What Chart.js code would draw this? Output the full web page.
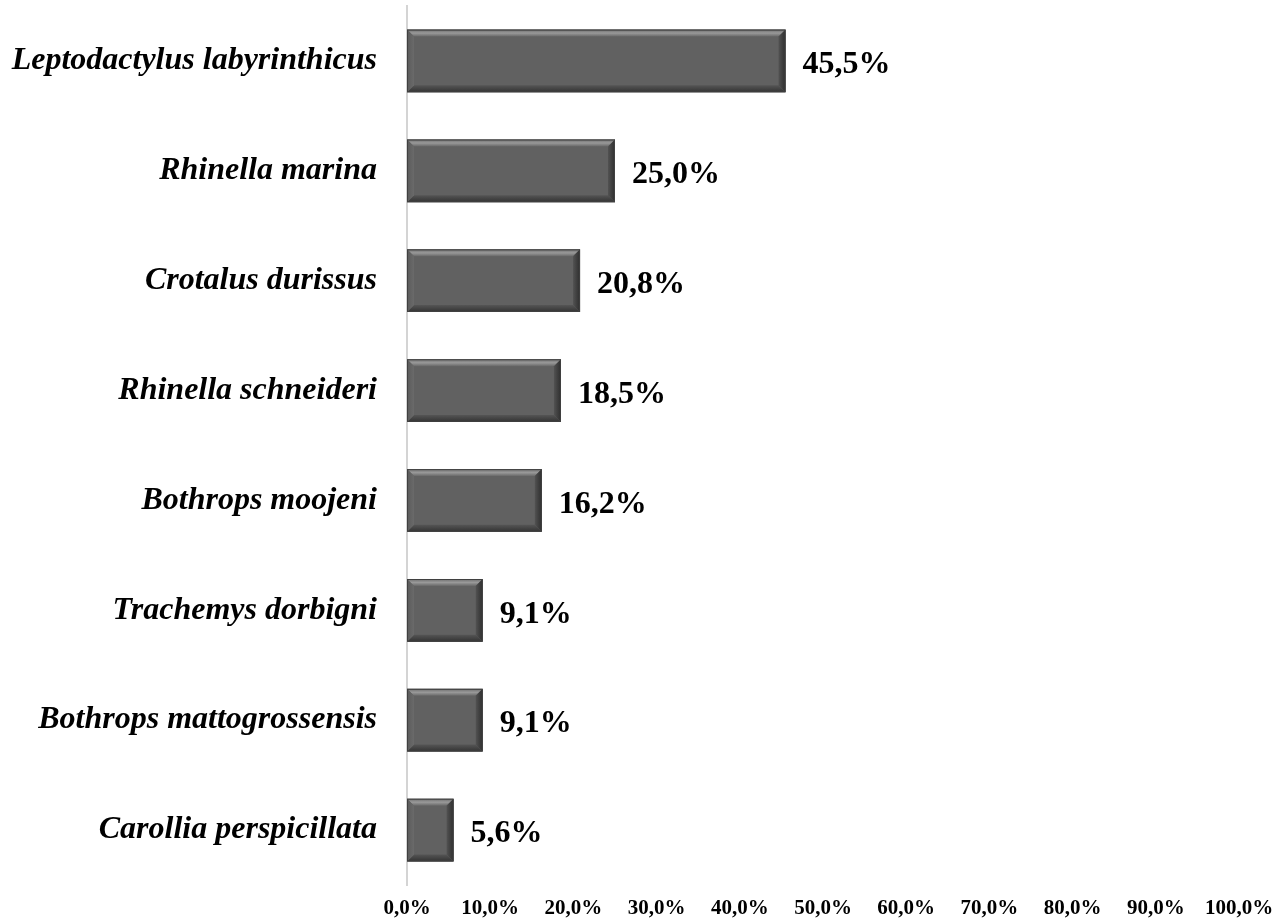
<!DOCTYPE html>
<html><head><meta charset="utf-8">
<script src="https://cdn.jsdelivr.net/npm/chart.js@4/dist/chart.umd.min.js"></script>
<style>html,body{margin:0;padding:0;background:#fff}#wrap{width:1286px;height:921px}</style>
</head><body><div id="wrap"><canvas id="c" width="1286" height="921"></canvas></div>
<script>
const categories = ["Leptodactylus labyrinthicus","Rhinella marina","Crotalus durissus","Rhinella schneideri","Bothrops moojeni","Trachemys dorbigni","Bothrops mattogrossensis","Carollia perspicillata"];
const values = [45.5, 25.0, 20.8, 18.5, 16.2, 9.1, 9.1, 5.6];
const xTickMin = 0, xTickMax = 100, xTickStep = 10;

const fmt = v => v.toFixed(1).replace('.', ',') + '%';

const bevel = {
  id: 'bevel',
  afterDatasetsDraw(chart) {
    const ctx = chart.ctx;
    chart.getDatasetMeta(0).data.forEach(bar => {
      const x0 = Math.min(bar.base, bar.x), x1 = Math.max(bar.base, bar.x);
      const y0 = bar.y - bar.height / 2, y1 = bar.y + bar.height / 2;
      const b = 7;
      ctx.save();
      let g = ctx.createLinearGradient(0, y0, 0, y0 + b);
      g.addColorStop(0, '#6e6e6e'); g.addColorStop(0.5, '#999999'); g.addColorStop(1, '#686868');
      ctx.fillStyle = g;
      ctx.beginPath(); ctx.moveTo(x0, y0); ctx.lineTo(x1, y0); ctx.lineTo(x1 - b, y0 + b); ctx.lineTo(x0 + b, y0 + b); ctx.closePath(); ctx.fill();
      g = ctx.createLinearGradient(0, y1 - b, 0, y1);
      g.addColorStop(0, '#555555'); g.addColorStop(1, '#333333');
      ctx.fillStyle = g;
      ctx.beginPath(); ctx.moveTo(x0, y1); ctx.lineTo(x1, y1); ctx.lineTo(x1 - b, y1 - b); ctx.lineTo(x0 + b, y1 - b); ctx.closePath(); ctx.fill();
      g = ctx.createLinearGradient(x0, 0, x0 + b, 0);
      g.addColorStop(0, '#5a5a5a'); g.addColorStop(1, '#6a6a6a');
      ctx.fillStyle = g;
      ctx.beginPath(); ctx.moveTo(x0, y0); ctx.lineTo(x0 + b, y0 + b); ctx.lineTo(x0 + b, y1 - b); ctx.lineTo(x0, y1); ctx.closePath(); ctx.fill();
      g = ctx.createLinearGradient(x1 - b, 0, x1, 0);
      g.addColorStop(0, '#525252'); g.addColorStop(1, '#2e2e2e');
      ctx.fillStyle = g;
      ctx.beginPath(); ctx.moveTo(x1, y0); ctx.lineTo(x1 - b, y0 + b); ctx.lineTo(x1 - b, y1 - b); ctx.lineTo(x1, y1); ctx.closePath(); ctx.fill();
      ctx.strokeStyle = '#404040'; ctx.lineWidth = 1;
      ctx.strokeRect(x0 + 0.5, y0 + 0.5, x1 - x0 - 1, y1 - y0 - 1);
      ctx.restore();
    });
  }
};

const labelsPlugin = {
  id: 'valueLabels',
  afterDatasetsDraw(chart) {
    const ctx = chart.ctx;
    ctx.save();
    ctx.font = 'bold 32px "Liberation Serif", "Times New Roman", serif';
    ctx.fillStyle = '#000';
    ctx.textAlign = 'left';
    ctx.textBaseline = 'middle';
    chart.getDatasetMeta(0).data.forEach((bar, i) => {
      ctx.fillText(fmt(values[i]), bar.x + 17, bar.y + 4);
    });
    ctx.restore();
  }
};

new Chart(document.getElementById('c'), {
  type: 'bar',
  data: {
    labels: categories,
    datasets: [{
      data: values,
      backgroundColor: '#616161',
      borderWidth: 0,
      categoryPercentage: 1.0,
      barPercentage: 0.57
    }]
  },
  options: {
    indexAxis: 'y',
    responsive: false,
    animation: false,
    layout: { padding: { top: 6, right: 47, left: 0, bottom: 0 } },
    plugins: { legend: { display: false }, tooltip: { enabled: false } },
    scales: {
      x: {
        min: xTickMin, max: xTickMax,
        grid: { display: false, drawTicks: false },
        border: { display: false },
        ticks: {
          stepSize: xTickStep,
          color: '#000',
          padding: 11,
          font: { family: '"Liberation Serif", "Times New Roman", serif', size: 21, weight: 'bold' },
          callback: v => fmt(v),
          maxRotation: 0, autoSkip: false
        },
        afterFit: s => { s.height = 36; s.paddingLeft = 0; s.paddingRight = 0; }
      },
      y: {
        grid: { display: false, drawTicks: false },
        border: { display: true, color: '#d4d4d4', width: 2 },
        ticks: {
          color: '#000',
          padding: 30,
          font: { family: '"Liberation Serif", "Times New Roman", serif', size: 32, weight: 'bold', style: 'italic' }
        },
        afterFit: s => { s.width = 407; s.paddingTop = 0; s.paddingBottom = 0; }
      }
    }
  },
  plugins: [bevel, labelsPlugin]
});
</script></body></html>
